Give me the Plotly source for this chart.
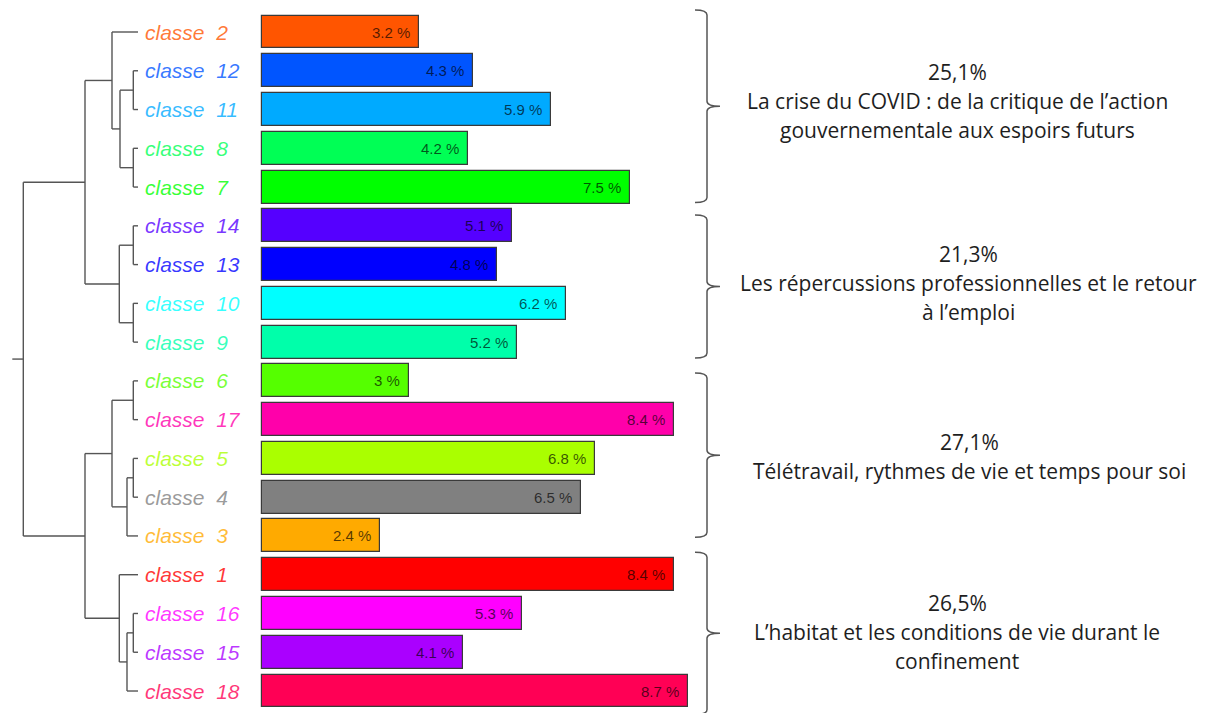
import plotly.graph_objects as go

# ---------------- data ----------------
classes = [2, 12, 11, 8, 7, 14, 13, 10, 9, 6, 17, 5, 4, 3, 1, 16, 15, 18]
pcts = [3.2, 4.3, 5.9, 4.2, 7.5, 5.1, 4.8, 6.2, 5.2, 3, 8.4, 6.8, 6.5, 2.4, 8.4, 5.3, 4.1, 8.7]
class_colors = {
    1: "#FF0000", 2: "#FF5500", 3: "#FFAA00", 4: "#808080", 5: "#AAFF00",
    6: "#55FF00", 7: "#00FF00", 8: "#00FF55", 9: "#00FFAA", 10: "#00FFFF",
    11: "#00AAFF", 12: "#0055FF", 13: "#0000FF", 14: "#5500FF", 15: "#AA00FF",
    16: "#FF00FF", 17: "#FF00AA", 18: "#FF0055",
}
# dendrogram: (merge height, left, right); leaves are class numbers
tree = (114.7,
        (53, (26, 2, (18, (4.7, 12, 11), (4.7, 8, 7))),
             (18.7, (4.7, 14, 13), (4.7, 10, 9))),
        (53, (26, (4.7, 6, 17), (11, (4.7, 5, 4), 3)),
             (18.7, 1, (11, (4.7, 16, 15), 18))))
root_stub = 11

group_members = [[2, 12, 11, 8, 7], [14, 13, 10, 9], [6, 17, 5, 4, 3], [1, 16, 15, 18]]
group_pcts = [25.1, 21.3, 27.1, 26.5]
group_texts = [
    ["La crise du COVID : de la critique de l\u2019action", "gouvernementale aux espoirs futurs"],
    ["Les répercussions professionnelles et le retour", "à l\u2019emploi"],
    ["Télétravail, rythmes de vie et temps pour soi"],
    ["L\u2019habitat et les conditions de vie durant le", "confinement"],
]

# ---------------- layout constants ----------------
W, H = 1214, 713
row0_px, row_px = 32, 38.765
bar_left_px, px_per_pct = 262, 49.0
leaf_px = 138
text_cx_px = [957, 968, 969, 957]
text_shift_px = [-5, -4, 1, -1]
brace_pad_px = [(-2.6, 4), (8.6, 3.4), (11.6, 18), (-3, -4)]
brace_x_px, brace_hook_px, brace_tick_px = 707, 695, 720
line_gap_px = 29

rows = list(range(len(classes)))
row_of = {c: i for i, c in enumerate(classes)}
colors = [class_colors[c] for c in classes]


def rgba(hexc, a):
    h = hexc.lstrip("#")
    return f"rgba({int(h[0:2],16)},{int(h[2:4],16)},{int(h[4:6],16)},{a})"


fig = go.Figure()

# bars
fig.add_trace(go.Bar(
    x=pcts, y=rows, orientation="h", width=0.85,
    marker=dict(color=colors, line=dict(color="#3a3a3a", width=1.2)),
    hoverinfo="skip", showlegend=False,
))

# dendrogram segments
xs, ys = [], []


def walk(node):
    if not isinstance(node, tuple):
        return row_of[node], 0.0
    h, l, r = node
    yl, hl = walk(l)
    yr, hr = walk(r)
    xs.extend([h, h, None, hl, h, None, hr, h, None])
    ys.extend([yl, yr, None, yl, yl, None, yr, yr, None])
    return (yl + yr) / 2, h


ry, rh = walk(tree)
xs.extend([rh, rh + root_stub, None])
ys.extend([ry, ry, None])
fig.add_trace(go.Scatter(
    x=xs, y=ys, xaxis="x2", mode="lines",
    line=dict(color="#555555", width=1.4), hoverinfo="skip", showlegend=False,
))

annotations = []
# class labels
for c, r in zip(classes, rows):
    annotations.append(dict(
        x=0, y=r, xref="x2", yref="y", xanchor="left", yanchor="middle",
        xshift=5, showarrow=False,
        text=f"<i>classe\u00a0 {c}</i>",
        font=dict(family="Liberation Sans, Arial", size=21, color=rgba(class_colors[c], 0.78)),
    ))
# percentage labels on bars
for v, r in zip(pcts, rows):
    annotations.append(dict(
        x=v, y=r, xref="x", yref="y", xanchor="right", yanchor="middle",
        xshift=-7, showarrow=False, text=f"{v:g} %",
        font=dict(family="Liberation Sans, Arial", size=15, color="rgba(0,0,0,0.68)"),
    ))

# braces and group texts
shapes = []
px2row = 1.0 / row_px
for gi, members in enumerate(group_members):
    rs = [row_of[c] for c in members]
    top = min(rs) - 0.5 + brace_pad_px[gi][0] * px2row
    bot = max(rs) + 0.5 - brace_pad_px[gi][1] * px2row
    mid = (top + bot) / 2
    xv = brace_x_px / W
    xl = brace_hook_px / W
    xt = brace_tick_px / W
    rr = 5 * px2row
    path = (f"M {xl},{top} Q {xv},{top} {xv},{top+rr} L {xv},{mid-rr} "
            f"Q {xv},{mid} {xt},{mid} Q {xv},{mid} {xv},{mid+rr} "
            f"L {xv},{bot-rr} Q {xv},{bot} {xl},{bot}")
    shapes.append(dict(type="path", path=path, xref="paper", yref="y",
                       line=dict(color="#555555", width=1.5)))
    lines = [f"{group_pcts[gi]:.1f}%".replace(".", ",")] + group_texts[gi]
    n = len(lines)
    for i, t in enumerate(lines):
        off = (i - (n - 1) / 2) * line_gap_px + text_shift_px[gi]
        annotations.append(dict(
            x=text_cx_px[gi] / W, y=mid, xref="paper", yref="y",
            xanchor="center", yanchor="middle", yshift=-off, showarrow=False,
            text=t, font=dict(family="Open Sans, sans-serif", size=21, color="#1e1e1e"),
        ))

fig.update_layout(
    width=W, height=H, margin=dict(l=0, r=0, t=0, b=0),
    paper_bgcolor="white", plot_bgcolor="white",
    xaxis=dict(range=[-bar_left_px / px_per_pct, (W - bar_left_px) / px_per_pct],
               visible=False, fixedrange=True),
    xaxis2=dict(range=[leaf_px, leaf_px - W], overlaying="x", visible=False, fixedrange=True),
    yaxis=dict(range=[(H - row0_px) / row_px, -row0_px / row_px], visible=False, fixedrange=True),
    annotations=annotations, shapes=shapes, showlegend=False, bargap=0,
)

fig.write_html("out.html", post_script="document.body.style.margin='0';",
               config={"displayModeBar": False})
